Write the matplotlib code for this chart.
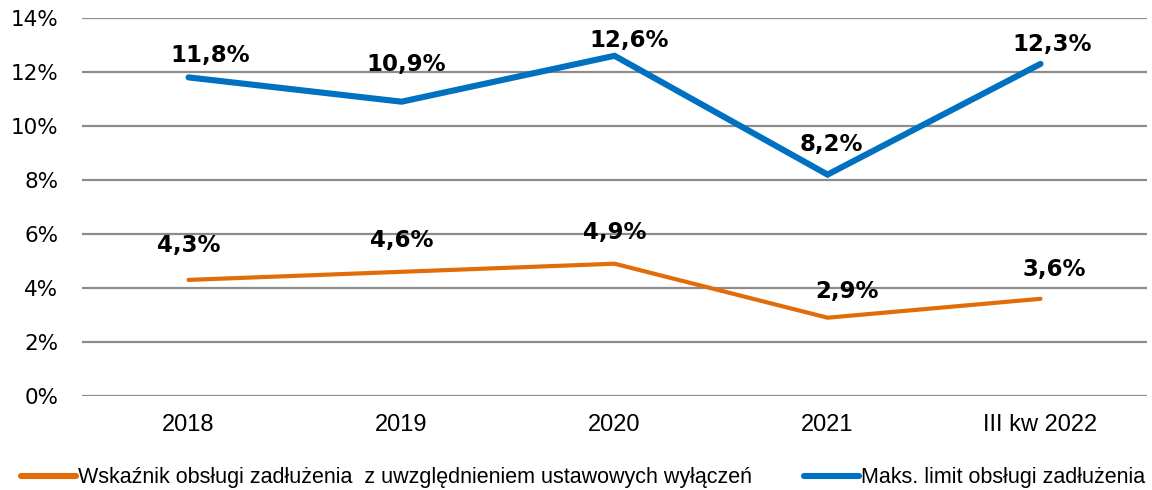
import matplotlib
matplotlib.use("Agg")
import matplotlib.pyplot as plt
from matplotlib.ticker import FuncFormatter

# data
categories = ["2018", "2019", "2020", "2021", "III kw 2022"]
debt_service = [4.3, 4.6, 4.9, 2.9, 3.6]
max_limit = [11.8, 10.9, 12.6, 8.2, 12.3]
label_debt = "Wskaźnik obsługi zadłużenia  z uwzględnieniem ustawowych wyłączeń"
label_limit = "Maks. limit obsługi zadłużenia"

# where the value labels sit relative to their point (pixels, dx / dy up)
limit_offsets = [(22, 22), (5, 37), (15, 15), (4, 30), (12, 19)]
debt_offsets = [(0, 34), (0, 31), (0, 31), (19, 26), (14, 29)]

ORANGE = "#E36C0A"
BLUE = "#0070C0"
SANS = ["Liberation Sans", "DejaVu Sans"]

fig = plt.figure(figsize=(11.52, 4.9), dpi=100)
ax = fig.add_axes([0.0712, 0.1918, 0.9245, 0.7715])

x = list(range(len(categories)))
ax.plot(x, debt_service, color=ORANGE, lw=3.0, solid_capstyle="round",
        solid_joinstyle="miter", label=label_debt, zorder=3)
ax.plot(x, max_limit, color=BLUE, lw=4.4, solid_capstyle="round",
        solid_joinstyle="miter", label=label_limit, zorder=3)

def fmt(v):
    return f"{v:.1f}%".replace(".", ",")

for xi, v, off in zip(x, max_limit, limit_offsets):
    ax.annotate(fmt(v), (xi, v), xytext=off, textcoords="offset pixels",
                ha="center", va="center", fontsize=16.5, fontweight="bold")
for xi, v, off in zip(x, debt_service, debt_offsets):
    ax.annotate(fmt(v), (xi, v), xytext=off, textcoords="offset pixels",
                ha="center", va="center", fontsize=16.5, fontweight="bold")

ax.set_xlim(-0.5, 4.5)
ax.set_ylim(0, 14)
ax.set_yticks(range(0, 15, 2))
ax.yaxis.set_major_formatter(FuncFormatter(lambda v, p: f"{v:.0f}%"))
ax.set_xticks(x)
ax.set_xticklabels(categories, family=SANS, fontsize=17)
ax.tick_params(axis="y", labelsize=15.5, length=0, pad=17)
ax.tick_params(axis="x", length=0, pad=13)

ax.grid(axis="y", color="#8c8c8c", lw=1.6)
ax.set_axisbelow(True)
for s in ax.spines.values():
    s.set_visible(False)

leg = fig.legend(loc="center left", bbox_to_anchor=(21 / 1152, 0.0245), ncol=2,
                 frameon=False, prop={"family": SANS, "size": 15.5},
                 handlelength=2.56, handletextpad=0.1, columnspacing=2.4,
                 borderpad=0, borderaxespad=0)
for h in leg.get_lines():
    h.set_linewidth(4.4)
    h.set_solid_capstyle("round")

fig.savefig("out.png", dpi=100)
